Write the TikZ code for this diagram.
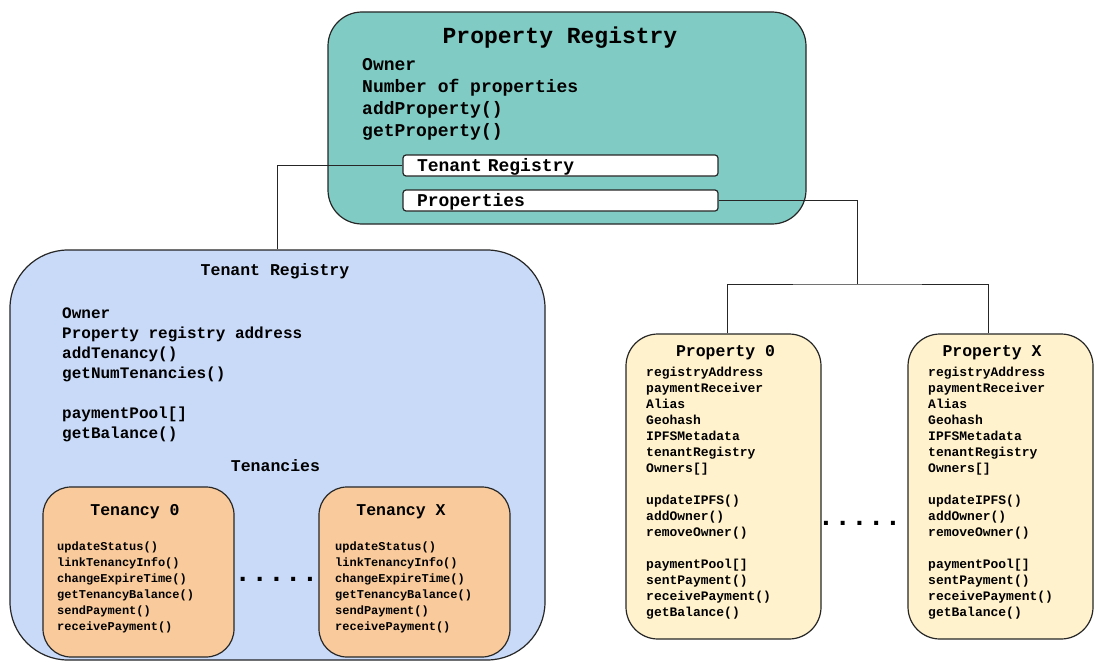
\documentclass[tikz,border=0pt]{standalone}
\usepackage{fontspec}
\setmonofont{Liberation Mono}
\definecolor{regTeal}{HTML}{80CBC4}
\definecolor{regBlue}{HTML}{C9DAF8}
\definecolor{regOrange}{HTML}{F9CB9C}
\definecolor{regYellow}{HTML}{FFF2CC}
\definecolor{regLine}{HTML}{262626}
\usetikzlibrary{
	positioning,
	calc
}

\begin{document}
\begin{tikzpicture}[x=1pt, y=-1pt,
		frame/.style={rectangle, draw=regLine, line width=1.2pt, inner sep=0pt},
		propreg/.style={frame, fill=regTeal, rounded corners=34pt},
		tenreg/.style={frame, fill=regBlue, rounded corners=58pt},
		tenancy/.style={frame, fill=regOrange, rounded corners=28pt},
		property/.style={frame, fill=regYellow, rounded corners=32pt},
		slot/.style={frame, fill=white, rounded corners=3pt, minimum width=315pt, minimum height=21pt, text width=287pt, inner xsep=14pt, text height=14pt, text depth=2pt, align=left, font=\ttfamily\bfseries\fontsize{18}{22}\selectfont},
		title/.style={anchor=base, inner sep=0pt, font=\ttfamily\bfseries\fontsize{23}{26}\selectfont},
		head/.style={anchor=base, inner sep=0pt, font=\ttfamily\bfseries\fontsize{16.5}{20}\selectfont},
		biglist/.style={anchor=north west, inner sep=0pt, align=left, font=\ttfamily\bfseries\fontsize{18}{22}\selectfont},
		midlist/.style={anchor=north west, inner sep=0pt, align=left, font=\ttfamily\bfseries\fontsize{16}{20}\selectfont},
		smalllist/.style={anchor=north west, inner sep=0pt, align=left, font=\ttfamily\bfseries\fontsize{12}{16}\selectfont},
		proplist/.style={anchor=north west, inner sep=0pt, align=left, font=\ttfamily\bfseries\fontsize{13}{16}\selectfont},
		gap/.style={anchor=base, inner sep=0pt, font=\ttfamily\bfseries\fontsize{28}{30}\selectfont},
		link/.style={draw=regLine, line width=1pt}
	]
		\useasboundingbox (0,0) rectangle (1094,661);
		% property registry
		\node[propreg, minimum width=478pt, minimum height=212pt] (propReg) at (567,118) {};
		\node[title] (propRegTitle) at (560,44) {Property Registry};
		\node[biglist] (propRegList) at (362,58) {Owner\\Number of properties\\addProperty()\\getProperty()};
		\node[slot] (slotTen) at (560.5,165.5) {Tenant Registry};
		\node[slot] (slotProps) at (560.5,200.5) {Properties};
		% tenant registry
		\node[tenreg, minimum width=535pt, minimum height=410pt] (tenReg) at (277.5,455) {};
		\node[head] (tenRegTitle) at (275,275) {Tenant Registry};
		\node[midlist] (tenRegList) at (62,308) {Owner\\Property registry address\\addTenancy()\\getNumTenancies()\\[20pt]paymentPool[]\\getBalance()};
		\node[head] (tenancies) at (275.5,471) {Tenancies};
		\node[tenancy, minimum width=191pt, minimum height=170pt] (ten0) at (138.5,572) {};
		\node[tenancy, minimum width=191pt, minimum height=170pt] (tenX) at (414.5,572) {};
		\node[head] (ten0Title) at (135,515) {Tenancy 0};
		\node[head] (tenXTitle) at (401,515) {Tenancy X};
		\node[smalllist] (ten0List) at (57,542) {updateStatus()\\linkTenancyInfo()\\changeExpireTime()\\getTenancyBalance()\\sendPayment()\\receivePayment()};
		\node[smalllist] (tenXList) at (335,542) {updateStatus()\\linkTenancyInfo()\\changeExpireTime()\\getTenancyBalance()\\sendPayment()\\receivePayment()};
		\node[gap] (tenGap) at (276.5,581) {.....};
		% properties
		\node[property, minimum width=195pt, minimum height=305pt] (prop0) at (723.5,486.5) {};
		\node[property, minimum width=185pt, minimum height=305pt] (propX) at (1000.5,486.5) {};
		\node[head] (prop0Title) at (725.5,356) {Property 0};
		\node[head] (propXTitle) at (992,356) {Property X};
		\node[proplist] (prop0List) at (646,367) {registryAddress\\paymentReceiver\\Alias\\Geohash\\IPFSMetadata\\tenantRegistry\\Owners[]\\[16pt]updateIPFS()\\addOwner()\\removeOwner()\\[16pt]paymentPool[]\\sentPayment()\\receivePayment()\\getBalance()};
		\node[proplist] (propXList) at (928,367) {registryAddress\\paymentReceiver\\Alias\\Geohash\\IPFSMetadata\\tenantRegistry\\Owners[]\\[16pt]updateIPFS()\\addOwner()\\removeOwner()\\[16pt]paymentPool[]\\sentPayment()\\receivePayment()\\getBalance()};
		\node[gap] (propGap) at (859.5,525) {.....};
		% links
		\coordinate (split) at (857,284);
		\draw[link] (slotTen.west) -| (tenReg.north);
		\draw[link] (slotProps.east) -| (split);
		\draw[link] ([xshift=3.5pt]prop0.north) |- (split) -| ([xshift=-12.5pt]propX.north);
	\end{tikzpicture}
\end{document}
